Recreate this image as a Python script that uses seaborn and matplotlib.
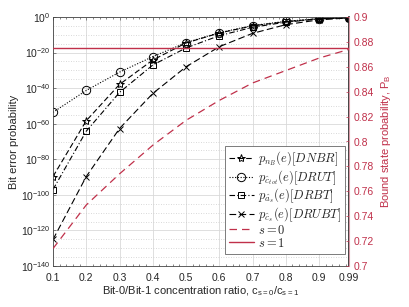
import numpy as np
import pandas as pd
import matplotlib
matplotlib.use("Agg")
import matplotlib.pyplot as plt
import seaborn as sns
from matplotlib.ticker import MultipleLocator, FixedLocator, NullFormatter, FixedFormatter

sns.set_theme(style="white")
plt.rcParams['font.family'] = ['Liberation Sans', 'DejaVu Sans']
plt.rcParams['mathtext.fontset'] = 'cm'

ratio = [0.1, 0.2, 0.3, 0.4, 0.5, 0.6, 0.7, 0.8, 0.9, 0.99]
log_dnbr = [-89.7, -58.3, -37.9, -24.2, -14.6, -9.0, -5.0, -2.6, -1.0, -0.4]
log_drut = [-53.6, -41.3, -31.0, -22.3, -14.4, -8.8, -4.8, -2.4, -0.9, -0.4]
log_drbt = [-97.0, -64.2, -42.4, -27.0, -17.4, -10.5, -5.8, -2.9, -1.1, -0.4]
log_drubt = [-125.1, -89.7, -62.7, -43.0, -28.0, -16.7, -9.2, -4.3, -1.6, -0.5]
pb_s0 = [0.714, 0.749, 0.774, 0.797, 0.817, 0.833, 0.847, 0.857, 0.867, 0.874]
pb_s1 = [0.875] * len(ratio)
x_ticklabels = ['0.1', '0.2', '0.3', '0.4', '0.5', '0.6', '0.7', '0.8', '0.9', '0.99']
right_ticklabels = ['0.7', '0.72', '0.74', '0.76', '0.78', '0.8', '0.82',
                    '0.84', '0.86', '0.88', '0.9']

labels = [r'$p_{n_B}(e)[DNBR]$', r'$p_{\hat{c}_{tot}}(e)[DRUT]$',
          r'$p_{\hat{a}_s}(e)[DRBT]$', r'$p_{\hat{c}_s}(e)[DRUBT]$']
series = [log_dnbr, log_drut, log_drbt, log_drubt]
markers = ['*', 'o', 's', 'x']
styles = [(0, (5, 2.5)), (0, (1, 1.5)), (0, (5, 2, 1, 2)), (0, (6, 3))]
msizes = [6, 6, 4.5, 4.5]

red = '#C0304A'

fig = plt.figure(figsize=(4.09, 3.07), dpi=100)
ax = fig.add_axes([53/409, 1-266/307, (349-53)/409, (266-17)/307])
ax2 = ax.twinx()

handles = []
for lab, vals, mk, ls, ms in zip(labels, series, markers, styles, msizes):
    df = pd.DataFrame({'c': ratio, 'p': 10.0 ** np.array(vals)})
    sns.lineplot(data=df, x='c', y='p', ax=ax, color='black', lw=0.8,
                 linestyle=ls, marker=mk, markersize=ms,
                 markerfacecolor='none', markeredgecolor='black',
                 markeredgewidth=0.7, legend=False)
    handles.append(ax.lines[-1])

df_r = pd.DataFrame({'c': ratio, 's0': pb_s0, 's1': pb_s1})
sns.lineplot(data=df_r, x='c', y='s0', ax=ax2, color=red, lw=0.9,
             linestyle=(0, (6, 4)), legend=False)
h_s0 = ax2.lines[-1]
sns.lineplot(data=df_r, x='c', y='s1', ax=ax2, color=red, lw=1.0,
             linestyle='-', legend=False)
h_s1 = ax2.lines[-1]

ax.set_yscale('log')
ax.set_ylim(1e-140, 1)
ax.set_xlim(0.1, 0.99)
ax.set_xticks(ratio)
ax.set_xticklabels(x_ticklabels)
ax.xaxis.set_minor_locator(MultipleLocator(0.02))
major_exp = list(range(-140, 1, 20))
ax.yaxis.set_major_locator(FixedLocator([10.0 ** k for k in major_exp]))
ax.yaxis.set_major_formatter(FixedFormatter([r'$\mathregular{10^{%d}}$' % k for k in major_exp]))
ax.yaxis.set_minor_locator(FixedLocator([10.0 ** k for k in range(-140, 1, 5)]))
ax.yaxis.set_minor_formatter(NullFormatter())
ax.grid(True, which='major', color='#d9d9d9', lw=0.6)
ax.grid(True, which='minor', axis='y', color='#cccccc', lw=0.6, linestyle=(0, (1, 2)))
ax.tick_params(axis='both', which='major', labelsize=7.5, length=2.5, width=0.5,
               direction='in', top=True, color='#555555', pad=2)
ax.tick_params(axis='x', which='major', pad=5)
ax.tick_params(axis='x', which='minor', length=1.5, width=0.5, direction='in',
               top=True, bottom=True, color='#555555')
ax.tick_params(axis='y', which='minor', length=0)
ax.set_xlabel(r'Bit-0/Bit-1 concentration ratio, $\mathregular{c_{s=0}/c_{s=1}}$',
              fontsize=8, labelpad=1)
ax.set_ylabel('Bit error probability', fontsize=8, labelpad=1)

ax2.set_ylim(0.7, 0.9)
ax2.set_yticks(np.round(np.arange(0.7, 0.9001, 0.02), 2))
ax2.set_yticklabels(right_ticklabels)
ax2.tick_params(axis='y', labelsize=7.5, colors=red, length=2.5, width=0.5,
                direction='in', pad=3)
ax2.set_ylabel(r'Bound state probability, $\mathregular{P_B}$', fontsize=8,
               color=red, labelpad=4)
ax2.set_xlim(0.1, 0.99)
ax2.grid(False)

for sp in ['left', 'top', 'bottom']:
    ax.spines[sp].set_color('#444444')
    ax.spines[sp].set_linewidth(0.6)
ax2.spines['right'].set_color('#d89aa6')
ax2.spines['right'].set_linewidth(0.8)
for sp in ['left', 'top', 'bottom']:
    ax2.spines[sp].set_visible(False)

leg = ax2.legend(handles + [h_s0, h_s1], labels + [r'$s=0$', r'$s=1$'],
                 loc='lower right', bbox_to_anchor=(1.008, 0.025),
                 fontsize=9, handlelength=2.0, handletextpad=0.35,
                 labelspacing=0.0, borderpad=0.3, frameon=True,
                 fancybox=False, edgecolor='#666666', framealpha=1)
leg.get_frame().set_linewidth(0.6)

fig.savefig('out.png', dpi=100)
